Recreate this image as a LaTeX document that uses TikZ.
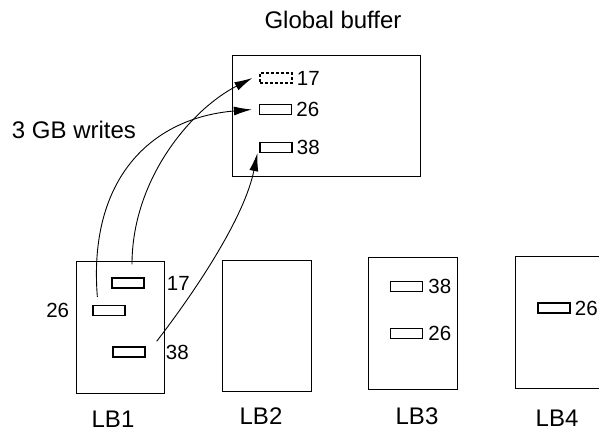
\documentclass[tikz,border=0pt]{standalone}
\usepackage{fontspec}
\setmainfont{Liberation Sans}
\usetikzlibrary{positioning,arrows.meta}

\begin{document}
\begin{tikzpicture}[x=1pt,y=-1pt,
  every node/.style={font=\fontsize{24}{28}\selectfont},
  bufbox/.style={draw,line width=1pt,inner sep=0pt},
  entry/.style={draw,line width=1.3pt,minimum width=32pt,minimum height=10pt,inner sep=0pt},
  num/.style={inner sep=1pt,font=\fontsize{20.5}{24}\selectfont},
  write/.style={line width=0.9pt,-{Latex[length=18pt,width=9pt]}}]
\useasboundingbox (0,0) rectangle (599,431);

\node [bufbox,minimum width=188pt,minimum height=121pt] at (326,115.5) (gb) {};
\node at (333,20) (gbname) {Global buffer};
\node [bufbox,minimum width=88pt,minimum height=132pt] at (120,327) (lb1) {};
\node [bufbox,minimum width=89pt,minimum height=131pt] at (266.5,325.5) (lb2) {};
\node [bufbox,minimum width=89pt,minimum height=132pt] at (412.5,323) (lb3) {};
\node [bufbox,minimum width=89pt,minimum height=132pt] at (559.5,322) (lb4) {};

\node at (113,419) (lb1name) {LB1};
\node at (261,416) (lb2name) {LB2};
\node at (417,416) (lb3name) {LB3};
\node at (557,418) (lb4name) {LB4};

% entries in the global buffer
\node [entry,dashed,dash pattern=on 3pt off 2pt] at (276,78) (gb17) {};
\node [entry] at (275.5,109.5) (gb26) {};
\node [entry] at (276,147.5) (gb38) {};
\node [num,right=3pt of gb17] (gb17n) {17};
\node [num,right=3pt of gb26] (gb26n) {26};
\node [num,right=3pt of gb38] (gb38n) {38};

% entries in the local buffers
\node [entry] at (128,283) (lb1a) {};
\node [entry] at (109,310.5) (lb1b) {};
\node [entry] at (129,352) (lb1c) {};
\node [num,right=21pt of lb1a] (lb1an) {17};
\node [num,left=22pt of lb1b] (lb1bn) {26};
\node [num,right=19pt of lb1c] (lb1cn) {38};

\node [entry] at (406.5,286.5) (lb3a) {};
\node [entry] at (406.5,333.5) (lb3b) {};
\node [num,right=4pt of lb3a] (lb3an) {38};
\node [num,right=4pt of lb3b] (lb3bn) {26};

\node [entry] at (554,308) (lb4a) {};
\node [num,right=3pt of lb4a] (lb4an) {26};

\node at (74,130) (writes) {3 GB writes};

\draw [write] ([shift={(4pt,13pt)}]lb1a.north) .. controls (132,180) and (190,110) .. ([xshift=-7pt]gb17.west);
\draw [write] ([shift={(5pt,8pt)}]lb1b.north west) .. controls (88,180) and (150,118) .. ([xshift=-7pt]gb26.west);
\draw [write] ([shift={(11pt,5pt)}]lb1c.north east) .. controls (200,285) and (245,215) .. ([xshift=-2pt]gb38.south west);

\end{tikzpicture}
\end{document}
